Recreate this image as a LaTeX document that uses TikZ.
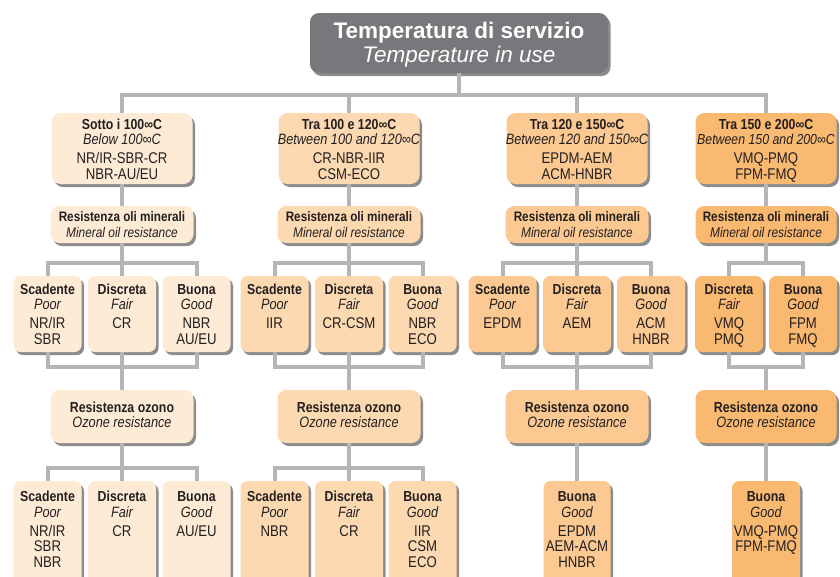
\documentclass[tikz,border=0pt]{standalone}
\usepackage{fontspec}
\setmainfont{Liberation Sans}
\newfontfamily\cond{Liberation Sans}[FakeStretch=0.85]
\usepackage{xcolor}
\usepackage{tikz}
\usetikzlibrary{shadows}

\definecolor{ink}{HTML}{231F20}
\definecolor{titlegray}{HTML}{77787B}
\definecolor{linkgray}{HTML}{B4B5B7}
\definecolor{peachA}{HTML}{FDEBD6}
\definecolor{peachB}{HTML}{FCD9B0}
\definecolor{peachC}{HTML}{FBC991}
\definecolor{peachD}{HTML}{F9B971}

% text of a box, set from its top edge
\newcommand{\boxlines}[4]{\parbox[c][#1][t]{#2}{\centering\rule{0pt}{#3}#4}}
\newcommand{\lbl}[2][14.5]{{\fontsize{#1}{15}\selectfont\bfseries #2}}
\newcommand{\eng}[2][15]{{\fontsize{#1}{15}\selectfont\itshape #2}}

\begin{document}
\begin{tikzpicture}[x=1pt,y=-1pt]
  \tikzstyle{cell} = [rounded corners=9pt, inner sep=0pt, text=ink,
    font=\cond\fontsize{15.5}{15.5}\selectfont,
    drop shadow={shadow xshift=2.5pt, shadow yshift=-3pt, fill=black, opacity=.45}]
  \tikzstyle{grade} = [cell, rounded corners=7pt]
  \tikzstyle{link} = [draw=linkgray, line width=4pt]

  \useasboundingbox (0,0) rectangle (840,576);

  \node[cell, fill=titlegray, text=white, font=\fontsize{22.5}{24.4}\selectfont]
    (title) at (459,43)
    {\boxlines{60pt}{298pt}{25.3pt}{\textbf{Temperatura di servizio}\\\textit{Temperature in use}}};

  % below 100
  \node[cell, fill=peachA] (t1) at (122,148.5)
    {\boxlines{71pt}{141pt}{16.3pt}{\lbl{Sotto i 100∞C}\\\eng{Below 100∞C}\\[3.5pt]NR/IR-SBR-CR\\NBR-AU/EU}};
  \node[cell, fill=peachA] (oil1) at (122,224.5)
    {\boxlines{37pt}{143pt}{15.7pt}{\lbl[13.8]{Resistenza oli minerali}\\\eng[14]{Mineral oil resistance}}};
  \node[grade, fill=peachA] (o1p) at (47.5,314)
    {\boxlines{76pt}{68pt}{18pt}{\lbl{Scadente}\\\eng{Poor}\\[3.5pt]NR/IR\\SBR}};
  \node[grade, fill=peachA] (o1f) at (122,314)
    {\boxlines{76pt}{68pt}{18pt}{\lbl{Discreta}\\\eng{Fair}\\[3.5pt]CR}};
  \node[grade, fill=peachA] (o1g) at (196.5,314)
    {\boxlines{76pt}{68pt}{18pt}{\lbl{Buona}\\\eng{Good}\\[3.5pt]NBR\\AU/EU}};
  \node[cell, fill=peachA] (oz1) at (122,416.5)
    {\boxlines{53pt}{143pt}{22.3pt}{\lbl{Resistenza ozono}\\\eng{Ozone resistance}}};
  \node[grade, fill=peachA] (z1p) at (47.5,536)
    {\boxlines{110pt}{68pt}{20.7pt}{\lbl{Scadente}\\\eng{Poor}\\[3.5pt]NR/IR\\SBR\\NBR}};
  \node[grade, fill=peachA] (z1f) at (122,536)
    {\boxlines{110pt}{68pt}{20.7pt}{\lbl{Discreta}\\\eng{Fair}\\[3.5pt]CR}};
  \node[grade, fill=peachA] (z1g) at (196.5,536)
    {\boxlines{110pt}{68pt}{20.7pt}{\lbl{Buona}\\\eng{Good}\\[3.5pt]AU/EU}};

  % 100 - 120
  \node[cell, fill=peachB] (t2) at (349,148.5)
    {\boxlines{71pt}{141pt}{16.3pt}{\lbl{Tra 100 e 120∞C}\\\makebox[0pt]{\eng{Between 100 and 120∞C}}\\[3.5pt]CR-NBR-IIR\\CSM-ECO}};
  \node[cell, fill=peachB] (oil2) at (349,224.5)
    {\boxlines{37pt}{143pt}{15.7pt}{\lbl[13.8]{Resistenza oli minerali}\\\eng[14]{Mineral oil resistance}}};
  \node[grade, fill=peachB] (o2p) at (274.5,314)
    {\boxlines{76pt}{68pt}{18pt}{\lbl{Scadente}\\\eng{Poor}\\[3.5pt]IIR}};
  \node[grade, fill=peachB] (o2f) at (349,314)
    {\boxlines{76pt}{68pt}{18pt}{\lbl{Discreta}\\\eng{Fair}\\[3.5pt]CR-CSM}};
  \node[grade, fill=peachB] (o2g) at (422.5,314)
    {\boxlines{76pt}{68pt}{18pt}{\lbl{Buona}\\\eng{Good}\\[3.5pt]NBR\\ECO}};
  \node[cell, fill=peachB] (oz2) at (349,416.5)
    {\boxlines{53pt}{143pt}{22.3pt}{\lbl{Resistenza ozono}\\\eng{Ozone resistance}}};
  \node[grade, fill=peachB] (z2p) at (274.5,536)
    {\boxlines{110pt}{68pt}{20.7pt}{\lbl{Scadente}\\\eng{Poor}\\[3.5pt]NBR}};
  \node[grade, fill=peachB] (z2f) at (349,536)
    {\boxlines{110pt}{68pt}{20.7pt}{\lbl{Discreta}\\\eng{Fair}\\[3.5pt]CR}};
  \node[grade, fill=peachB] (z2g) at (422.5,536)
    {\boxlines{110pt}{68pt}{20.7pt}{\lbl{Buona}\\\eng{Good}\\[3.5pt]IIR\\CSM\\ECO}};

  % 120 - 150
  \node[cell, fill=peachC] (t3) at (577,148.5)
    {\boxlines{71pt}{141pt}{16.3pt}{\lbl{Tra 120 e 150∞C}\\\makebox[0pt]{\eng{Between 120 and 150∞C}}\\[3.5pt]EPDM-AEM\\ACM-HNBR}};
  \node[cell, fill=peachC] (oil3) at (577,224.5)
    {\boxlines{37pt}{143pt}{15.7pt}{\lbl[13.8]{Resistenza oli minerali}\\\eng[14]{Mineral oil resistance}}};
  \node[grade, fill=peachC] (o3p) at (502.5,314)
    {\boxlines{76pt}{68pt}{18pt}{\lbl{Scadente}\\\eng{Poor}\\[3.5pt]EPDM}};
  \node[grade, fill=peachC] (o3f) at (577,314)
    {\boxlines{76pt}{68pt}{18pt}{\lbl{Discreta}\\\eng{Fair}\\[3.5pt]AEM}};
  \node[grade, fill=peachC] (o3g) at (651,314)
    {\boxlines{76pt}{68pt}{18pt}{\lbl{Buona}\\\eng{Good}\\[3.5pt]ACM\\HNBR}};
  \node[cell, fill=peachC] (oz3) at (577,416.5)
    {\boxlines{53pt}{143pt}{22.3pt}{\lbl{Resistenza ozono}\\\eng{Ozone resistance}}};
  \node[grade, fill=peachC] (z3g) at (577,536)
    {\boxlines{110pt}{67pt}{20.7pt}{\lbl{Buona}\\\eng{Good}\\[3.5pt]EPDM\\AEM-ACM\\HNBR}};

  % 150 - 200
  \node[cell, fill=peachD] (t4) at (766,148.5)
    {\boxlines{71pt}{141pt}{16.3pt}{\lbl{Tra 150 e 200∞C}\\\makebox[0pt]{\eng[14.5]{Between 150 and 200∞C}}\\[3.5pt]VMQ-PMQ\\FPM-FMQ}};
  \node[cell, fill=peachD] (oil4) at (766,224.5)
    {\boxlines{37pt}{141pt}{15.7pt}{\lbl[13.8]{Resistenza oli minerali}\\\eng[14]{Mineral oil resistance}}};
  \node[grade, fill=peachD] (o4f) at (729,314)
    {\boxlines{76pt}{68pt}{18pt}{\lbl{Discreta}\\\eng{Fair}\\[3.5pt]VMQ\\PMQ}};
  \node[grade, fill=peachD] (o4g) at (803,314)
    {\boxlines{76pt}{68pt}{18pt}{\lbl{Buona}\\\eng{Good}\\[3.5pt]FPM\\FMQ}};
  \node[cell, fill=peachD] (oz4) at (766,416.5)
    {\boxlines{53pt}{141pt}{22.3pt}{\lbl{Resistenza ozono}\\\eng{Ozone resistance}}};
  \node[grade, fill=peachD] (z4g) at (766,536)
    {\boxlines{110pt}{68pt}{20.7pt}{\lbl{Buona}\\\eng{Good}\\[3.5pt]VMQ-PMQ\\FPM-FMQ}};

  % tree lines
  \coordinate (b0) at (459,95);
  \draw[link] (title) -- (b0);
  \draw[link] (t1.north) |- (b0) -| (t4.north);
  \draw[link] (t2.north) -- (t2.north |- b0);
  \draw[link] (t3.north) -- (t3.north |- b0);

  \coordinate (ko1) at (122,263); \coordinate (jo1) at (122,367); \coordinate (kz1) at (122,468);
  \draw[link] (t1) -- (oil1) -- (ko1);
  \draw[link] (o1p.north) |- (ko1) -| (o1g.north);
  \draw[link] (ko1) -- (o1f);
  \draw[link] (o1p.south) |- (jo1) -| (o1g.south);
  \draw[link] (o1f) -- (jo1) -- (oz1);
  \draw[link] (oz1) -- (kz1);
  \draw[link] (z1p.north) |- (kz1) -| (z1g.north);
  \draw[link] (kz1) -- (z1f);

  \coordinate (ko2) at (349,263); \coordinate (jo2) at (349,367); \coordinate (kz2) at (349,468);
  \draw[link] (t2) -- (oil2) -- (ko2);
  \draw[link] (o2p.north) |- (ko2) -| (o2g.north);
  \draw[link] (ko2) -- (o2f);
  \draw[link] (o2p.south) |- (jo2) -| (o2g.south);
  \draw[link] (o2f) -- (jo2) -- (oz2);
  \draw[link] (oz2) -- (kz2);
  \draw[link] (z2p.north) |- (kz2) -| (z2g.north);
  \draw[link] (kz2) -- (z2f);

  \coordinate (ko3) at (577,263); \coordinate (jo3) at (577,367);
  \draw[link] (t3) -- (oil3) -- (ko3);
  \draw[link] (o3p.north) |- (ko3) -| (o3g.north);
  \draw[link] (ko3) -- (o3f);
  \draw[link] (o3p.south) |- (jo3) -| (o3g.south);
  \draw[link] (o3f) -- (jo3) -- (oz3);
  \draw[link] (oz3) -- (z3g);

  \coordinate (ko4) at (766,263); \coordinate (jo4) at (766,367);
  \draw[link] (t4) -- (oil4) -- (ko4);
  \draw[link] (o4f.north) |- (ko4) -| (o4g.north);
  \draw[link] (o4f.south) |- (jo4) -| (o4g.south);
  \draw[link] (jo4) -- (oz4);
  \draw[link] (oz4) -- (z4g);
\end{tikzpicture}
\end{document}
